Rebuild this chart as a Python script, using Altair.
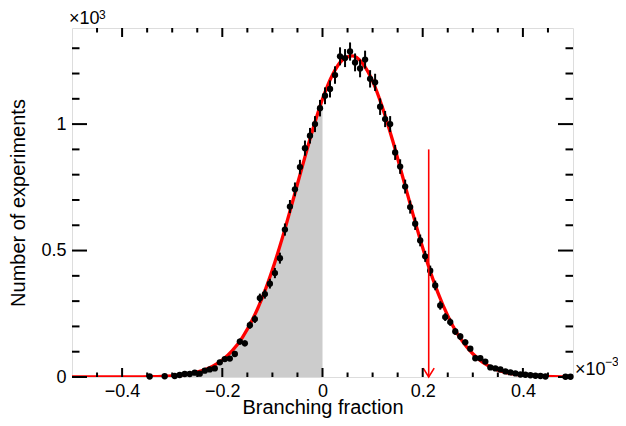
import altair as alt
import pandas as pd
import numpy as np

# ---- data (x in units of 1e-3, counts in units of 1e3) ----
bin_centers = [-0.345, -0.315, -0.295, -0.285, -0.275, -0.265, -0.255, -0.245, -0.235, -0.225,
               -0.215, -0.205, -0.195, -0.185, -0.175, -0.165, -0.155, -0.145, -0.135, -0.125,
               -0.115, -0.105, -0.095, -0.085, -0.075, -0.065, -0.055, -0.045, -0.035, -0.025,
               -0.015, -0.005, 0.005, 0.015, 0.025, 0.035, 0.045, 0.055, 0.065, 0.075,
               0.085, 0.095, 0.105, 0.115, 0.125, 0.135, 0.145, 0.155, 0.165, 0.175,
               0.185, 0.195, 0.205, 0.215, 0.225, 0.235, 0.245, 0.255, 0.265, 0.275,
               0.285, 0.295, 0.305, 0.315, 0.325, 0.335, 0.345, 0.355, 0.365, 0.375,
               0.385, 0.395, 0.405, 0.415, 0.425, 0.435, 0.445, 0.485, 0.495]
counts = [0.002, 0.003, 0.004, 0.008, 0.012, 0.012, 0.017, 0.013, 0.025, 0.030,
          0.034, 0.058, 0.071, 0.073, 0.091, 0.140, 0.133, 0.205, 0.229, 0.312,
          0.328, 0.369, 0.411, 0.470, 0.583, 0.674, 0.742, 0.830, 0.905, 0.954,
          1.000, 1.063, 1.112, 1.139, 1.194, 1.268, 1.261, 1.287, 1.244, 1.220,
          1.255, 1.179, 1.165, 1.069, 1.020, 1.000, 0.888, 0.832, 0.753, 0.672,
          0.606, 0.540, 0.477, 0.420, 0.362, 0.283, 0.237, 0.217, 0.180, 0.160,
          0.137, 0.112, 0.074, 0.074, 0.061, 0.038, 0.034, 0.030, 0.022, 0.018,
          0.014, 0.010, 0.009, 0.007, 0.005, 0.004, 0.002, 0.001, 0.001]

curve_x = [-0.50, -0.48, -0.46, -0.44, -0.42, -0.40, -0.38, -0.36, -0.34, -0.32,
           -0.30, -0.28, -0.26, -0.24, -0.22, -0.20, -0.18, -0.16, -0.14, -0.12,
           -0.10, -0.08, -0.06, -0.04, -0.02, 0.00, 0.02, 0.04, 0.06, 0.08,
           0.10, 0.12, 0.14, 0.16, 0.18, 0.20, 0.22, 0.24, 0.26, 0.28,
           0.30, 0.32, 0.34, 0.36, 0.38, 0.40, 0.42, 0.44, 0.46, 0.48, 0.50]
curve_y = [0.0000, 0.0000, 0.0000, 0.0000, 0.0000, 0.0001, 0.0003, 0.0005, 0.0011, 0.0023,
           0.0044, 0.0081, 0.0145, 0.025, 0.042, 0.067, 0.104, 0.156, 0.226, 0.315,
           0.424, 0.551, 0.691, 0.835, 0.975, 1.099, 1.195, 1.254, 1.270, 1.240,
           1.170, 1.064, 0.935, 0.792, 0.648, 0.511, 0.389, 0.286, 0.203, 0.139,
           0.092, 0.058, 0.036, 0.021, 0.0122, 0.0068, 0.0036, 0.0019, 0.0009, 0.0004, 0.0002]

limit_x = [0.212]
limit_top = [0.9]

x_major = [-0.4, -0.2, 0.0, 0.2, 0.4]
x_minor = [-0.45, -0.35, -0.3, -0.25, -0.15, -0.1, -0.05, 0.05, 0.1, 0.15, 0.25, 0.3, 0.35, 0.45]
y_major = [0.0, 0.5, 1.0]
y_minor = [0.1, 0.2, 0.3, 0.4, 0.6, 0.7, 0.8, 0.9, 1.1, 1.2, 1.3]

# ---- layout / style ----
W, H = 501, 349
FONT = "Liberation Sans"
xs = alt.Scale(domain=[-0.5, 0.5], nice=False, zero=False)
ys = alt.Scale(domain=[0, 1.38], nice=False, zero=False)

xaxis = alt.Axis(values=x_major, format="~g", ticks=False, tickSize=0, domain=False, grid=False,
                 labelFontSize=18, labelPadding=19, labelBaseline="alphabetic", labelFlush=False,
                 labelColor="black", title="Branching fraction", titleFontSize=20,
                 titleFontWeight="normal", titleColor="black", titleBaseline="alphabetic",
                 titleX=W / 2, titleY=36)
yaxis = alt.Axis(values=y_major, format="~g", ticks=False, tickSize=0, domain=False, grid=False,
                 labelFontSize=18, labelPadding=6, labelColor="black", labelFlush=False,
                 title="Number of experiments", titleFontSize=20, titleFontWeight="normal",
                 titleColor="black", titleBaseline="alphabetic", titleX=-48, titleY=H / 2)


def X(f):
    return alt.X(f, type="quantitative", scale=xs, axis=xaxis)


def Y(f):
    return alt.Y(f, type="quantitative", scale=ys, axis=yaxis)


pts = pd.DataFrame({"x": bin_centers, "y": counts})
err = np.sqrt(pts["y"] * 1000.0) / 1000.0  # Poisson uncertainty of each bin
pts["lo"] = pts["y"] - err
pts["hi"] = pts["y"] + err
curve = pd.DataFrame({"x": curve_x, "y": curve_y})
lim = pd.DataFrame({"x": limit_x, "y": [0.0], "top": limit_top})

area = alt.Chart(curve).transform_filter("datum.x <= 0").mark_area(
    color="#cccccc", interpolate="monotone", opacity=1).encode(x=X("x"), y=Y("y"))
line = alt.Chart(curve).mark_line(color="#ff0000", strokeWidth=3.3, interpolate="monotone",
                                  clip=True).encode(x=X("x"), y=Y("y"))
bars = alt.Chart(pts).mark_rule(color="black", strokeWidth=2, clip=True).encode(
    x=X("x"), y=Y("lo"), y2="hi")
dots = alt.Chart(pts).mark_circle(color="black", size=40, opacity=1).encode(x=X("x"), y=Y("y"))
arrow = alt.Chart(lim).mark_rule(color="#ff0000", strokeWidth=1.6).encode(
    x=X("x"), y=Y("y"), y2="top")
head = alt.Chart(lim).mark_point(shape="M-1,-1.6L0,0L1,-1.6", filled=False, color="#ff0000",
                                 strokeWidth=1.6, size=121, opacity=1).encode(x=X("x"), y=Y("y"))

tk = []
for vals, ln in ((x_major, 9), (x_minor, 4.5)):
    d = pd.DataFrame({"x": vals})
    tk.append(alt.Chart(d).mark_rule(color="black", strokeWidth=2).encode(
        x=X("x"), y=alt.value(H), y2=alt.value(H - ln)))
    tk.append(alt.Chart(d).mark_rule(color="black", strokeWidth=2).encode(
        x=X("x"), y=alt.value(0), y2=alt.value(ln)))
for vals, ln in ((y_major, 15), (y_minor, 7.5)):
    d = pd.DataFrame({"y": vals})
    tk.append(alt.Chart(d).mark_rule(color="black", strokeWidth=2).encode(
        y=Y("y"), x=alt.value(0), x2=alt.value(ln)))
    tk.append(alt.Chart(d).mark_rule(color="black", strokeWidth=2).encode(
        y=Y("y"), x=alt.value(W), x2=alt.value(W - ln)))


def txt(s, x, y, size):
    return alt.Chart(pd.DataFrame({"s": [s]})).mark_text(
        align="left", baseline="alphabetic", fontSize=size, font=FONT, color="black").encode(
        text="s:N", x=alt.value(x), y=alt.value(y))


labels = [txt("×10", -3, -4, 18), txt("3", 27, -9, 12),
          txt("×10", 503, 347, 18), txt("−3", 533, 338, 12)]

chart = alt.layer(area, line, bars, dots, arrow, head, *tk, *labels).properties(
    width=W, height=H,
    padding={"left": 64, "top": 20, "right": 45, "bottom": 41},
    autosize=alt.AutoSizeParams(type="none"),
).configure_view(stroke="black", strokeWidth=2).configure_axis(
    labelFont=FONT, titleFont=FONT).configure_text(font=FONT).configure(background="white")

chart.save("out.html", embed_options={"renderer": "svg", "actions": False})
